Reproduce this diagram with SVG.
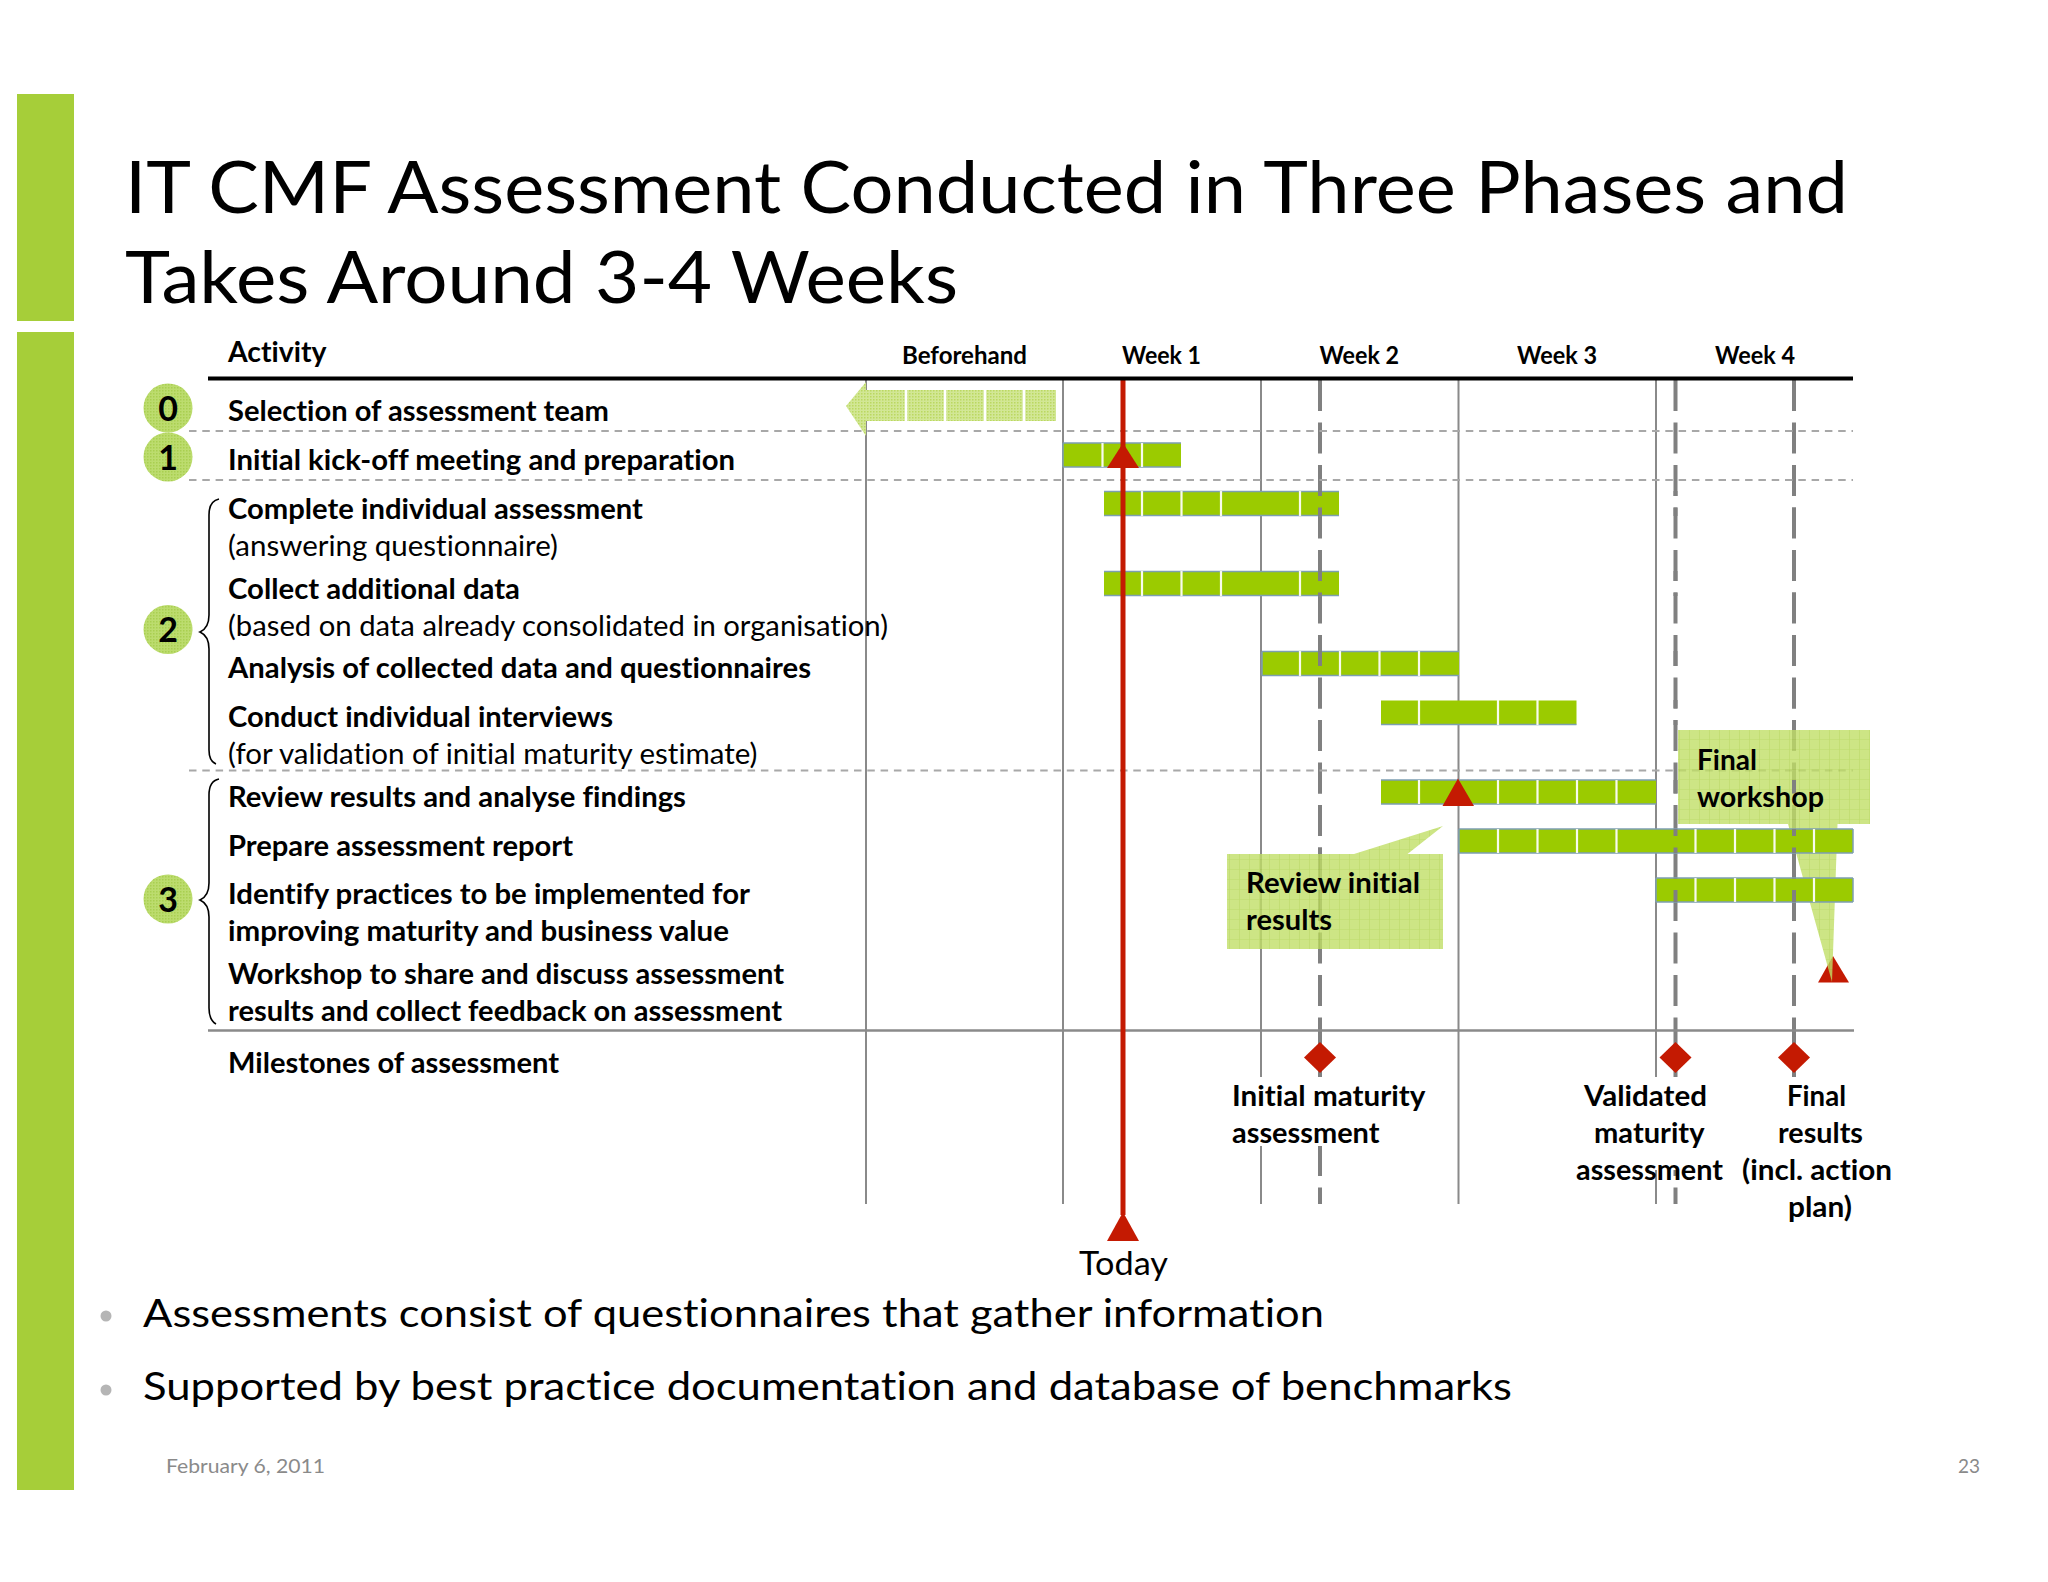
<svg xmlns="http://www.w3.org/2000/svg" width="2048" height="1582" viewBox="0 0 2048 1582">
<style>
text{font-family:"Lato","Carlito","Open Sans",sans-serif;fill:#000;font-variant-ligatures:none}
.t{font-size:72px}
.b{font-size:28px;font-weight:700}
.h{font-size:25px;font-weight:700}
.r{font-size:28px}
.p{font-size:39px}
.f{font-size:20px;fill:#8a8a8a}
.n{font-size:34px;font-weight:700;text-anchor:middle}
.grid{stroke:#8a8a8a;stroke-width:2;fill:none}
.dash{stroke:#808080;stroke-width:4;stroke-dasharray:31 11.5;fill:none}
.sep{stroke:#a8a8a8;stroke-width:2;stroke-dasharray:7.500 5.800;fill:none}
.bar{fill:#9bcb00}
.edge{stroke:#7d9fb2;stroke-width:1.5;fill:none}
.gap{stroke:#f8fbee;stroke-width:2.200}
.brace{fill:none;stroke:#000;stroke-width:1.6}
.red{fill:#c41a02}
.mask{fill:#fff}
</style>
<defs>
<pattern id="grid" width="10" height="10" patternUnits="userSpaceOnUse"><rect width="10" height="10" fill="#c0de66"/><path d="M10 0V10M0 10H10" stroke="#acd245" stroke-width="1.2" fill="none"/></pattern>
<pattern id="dots" width="3" height="3" patternUnits="userSpaceOnUse"><rect width="3" height="3" fill="#d2e795"/><rect width="1.5" height="1.5" fill="#bbd860"/></pattern>
<pattern id="cdots" width="3" height="3" patternUnits="userSpaceOnUse"><rect width="3" height="3" fill="#bcdc6e"/><rect width="1.5" height="1.5" fill="#a9cf50"/></pattern>
<clipPath id="bands"><rect x="1000" y="491" width="900" height="25"/><rect x="1000" y="571" width="900" height="25"/><rect x="1000" y="651" width="900" height="25"/><rect x="1000" y="700" width="900" height="25"/><rect x="1000" y="780" width="900" height="24"/><rect x="1000" y="829" width="900" height="24"/><rect x="1000" y="878" width="900" height="24"/></clipPath>
</defs>

<g id="side-bars" fill="#a6ce39"><rect x="17" y="94" width="57" height="227"/><rect x="17" y="332" width="57" height="1158"/></g>

<g id="title">
<text class="t" x="125" y="213" textLength="1723" lengthAdjust="spacingAndGlyphs">IT CMF Assessment Conducted in Three Phases and</text>
<text class="t" x="125" y="303" textLength="833" lengthAdjust="spacingAndGlyphs">Takes Around 3-4 Weeks</text>
</g>

<g id="connectors">
<path class="dash" d="M1320 380V1204M1675.500 380V1204M1794 380V1204"/>
<path class="grid" d="M866 379V1204M1063 379V1204M1261 379V1204M1458.500 379V1204M1656 379V1204"/>
<path class="sep" d="M189 431H1853M189 480H1853M189 770.500H1853"/>
<path d="M208 1030.500H1854" stroke="#8a8a8a" stroke-width="2.600"/>
</g>

<g id="selection-bar">
<polygon points="846,406 866,382 866,436" fill="url(#dots)"/>
<rect x="866" y="390" width="190" height="31" fill="url(#dots)"/>
<path d="M906 390V421M945 390V421M985 390V421M1024 390V421" stroke="#fff" stroke-width="2.500"/>
</g>

<polygon id="final-milestone" class="red" points="1833,956 1818,982.500 1849,982.500"/>
<g id="callout-final" opacity=".8">
<polygon points="1678,730 1870,730 1870,824 1837.500,824 1832,982 1788,824 1678,824" fill="url(#grid)"/>
</g>

<g id="bars">
<g id="bar-kickoff"><rect class="bar" x="1063" y="443" width="118" height="24"/><path class="edge" d="M1063 443H1181M1063 467H1181M1063 443V467"/><path class="gap" d="M1102.500 443V467M1142 443V467"/></g>
<g id="bar-complete"><rect class="bar" x="1104" y="491.500" width="235" height="24"/><path class="edge" d="M1104 491.500H1339M1104 515.500H1339"/><path class="gap" d="M1142 491V516M1181.500 491V516M1221 491V516M1300 491V516"/></g>
<g id="bar-collect"><rect class="bar" x="1104" y="571.500" width="235" height="24"/><path class="edge" d="M1104 571.500H1339M1104 595.500H1339"/><path class="gap" d="M1142 571V596M1181.500 571V596M1221 571V596M1300 571V596"/></g>
<g id="bar-analysis"><rect class="bar" x="1262" y="651.500" width="197" height="24"/><path class="edge" d="M1262 651.500H1459M1262 675.500H1459M1262 651.500V675.500"/><path class="gap" d="M1300 651V676M1340 651V676M1379.500 651V676M1419 651V676"/></g>
<g id="bar-interviews"><rect class="bar" x="1381" y="700.500" width="195.500" height="24"/><path class="edge" d="M1381 724.500H1576.500"/><path class="gap" d="M1419 700V725M1498 700V725M1537.500 700V725"/></g>
<g id="bar-review"><rect class="bar" x="1381" y="780" width="275" height="24"/><path class="edge" d="M1381 780H1656M1381 804H1656"/><path class="gap" d="M1419 780V804M1498 780V804M1537.500 780V804M1577 780V804M1616.500 780V804"/></g>
<g id="bar-prepare"><rect class="bar" x="1459" y="829" width="394" height="24"/><path class="edge" d="M1459 829H1853M1459 853H1853M1459 829V853M1853 829V853"/><path class="gap" d="M1498 829V853M1537.500 829V853M1577 829V853M1616.500 829V853M1695.500 829V853M1735 829V853M1774.500 829V853M1814 829V853"/></g>
<g id="bar-identify"><rect class="bar" x="1656" y="878" width="197" height="24"/><path class="edge" d="M1656 878H1853M1656 902H1853M1656 878V902M1853 878V902"/><path class="gap" d="M1695.500 878V902M1735 878V902M1774.500 878V902M1814 878V902"/></g>
</g>

<g id="dashed-over-bars" clip-path="url(#bands)"><path class="dash" d="M1320 380V1204M1675.500 380V1204M1794 380V1204"/></g>

<g id="label-backgrounds">
<rect class="mask" x="1232" y="1077" width="194" height="69"/>
<rect class="mask" x="1640" y="1077" width="60" height="93"/>
<rect class="mask" x="1780" y="1077" width="30" height="128"/>
</g>

<g id="today"><path d="M1123 379V1215" stroke="#c41a02" stroke-width="5" fill="none"/>
<polygon class="red" points="1123,443 1107,468 1139,468"/>
<polygon class="red" points="1123,1212 1107,1241 1139,1241"/>
<text x="1079" y="1275" font-size="32" textLength="89" lengthAdjust="spacingAndGlyphs">Today</text></g>
<polygon id="review-milestone" class="red" points="1458,778.500 1442.500,806 1474,806"/>

<g id="diamonds" class="red">
<polygon points="1320,1042 1336,1057.500 1320,1073 1304,1057.500"/>
<polygon points="1675.500,1042 1691.500,1057.500 1675.500,1073 1659.500,1057.500"/>
<polygon points="1794,1042 1810,1057.500 1794,1073 1778,1057.500"/>
</g>

<g id="callout-review" opacity=".8">
<polygon points="1227,854 1354,854 1443,826 1407.500,854 1443,854 1443,949 1227,949" fill="url(#grid)"/>
</g>

<path d="M208 378.500H1853" stroke="#000" stroke-width="4"/>

<g id="header">
<text class="b" x="228" y="362" textLength="98.500" lengthAdjust="spacingAndGlyphs">Activity</text>
<text class="h" x="902" y="364" textLength="125" lengthAdjust="spacingAndGlyphs">Beforehand</text>
<text class="h" x="1122" y="364" textLength="79" lengthAdjust="spacingAndGlyphs">Week 1</text>
<text class="h" x="1319.500" y="364" textLength="79.500" lengthAdjust="spacingAndGlyphs">Week 2</text>
<text class="h" x="1517" y="364" textLength="80" lengthAdjust="spacingAndGlyphs">Week 3</text>
<text class="h" x="1715" y="364" textLength="80" lengthAdjust="spacingAndGlyphs">Week 4</text>
</g>

<g id="activities">
<text class="b" x="228" y="421" textLength="381" lengthAdjust="spacingAndGlyphs">Selection of assessment team</text>
<text class="b" x="228" y="470" textLength="507" lengthAdjust="spacingAndGlyphs">Initial kick-off meeting and preparation</text>
<text class="b" x="228" y="519" textLength="415" lengthAdjust="spacingAndGlyphs">Complete individual assessment</text>
<text class="r" x="228" y="556" textLength="330" lengthAdjust="spacingAndGlyphs">(answering questionnaire)</text>
<text class="b" x="228" y="599" textLength="292" lengthAdjust="spacingAndGlyphs">Collect additional data</text>
<text class="r" x="228" y="636" textLength="660" lengthAdjust="spacingAndGlyphs">(based on data already consolidated in organisation)</text>
<text class="b" x="228" y="678" textLength="583" lengthAdjust="spacingAndGlyphs">Analysis of collected data and questionnaires</text>
<text class="b" x="228" y="727" textLength="385" lengthAdjust="spacingAndGlyphs">Conduct individual interviews</text>
<text class="r" x="228" y="764" textLength="529.500" lengthAdjust="spacingAndGlyphs">(for validation of initial maturity estimate)</text>
<text class="b" x="228" y="807" textLength="458" lengthAdjust="spacingAndGlyphs">Review results and analyse findings</text>
<text class="b" x="228" y="856" textLength="345" lengthAdjust="spacingAndGlyphs">Prepare assessment report</text>
<text class="b" x="228" y="904" textLength="522" lengthAdjust="spacingAndGlyphs">Identify practices to be implemented for</text>
<text class="b" x="228" y="941" textLength="501" lengthAdjust="spacingAndGlyphs">improving maturity and business value</text>
<text class="b" x="228" y="984" textLength="556" lengthAdjust="spacingAndGlyphs">Workshop to share and discuss assessment</text>
<text class="b" x="228" y="1021" textLength="554" lengthAdjust="spacingAndGlyphs">results and collect feedback on assessment</text>
<text class="b" x="228" y="1073" textLength="331" lengthAdjust="spacingAndGlyphs">Milestones of assessment</text>
</g>

<g id="callout-labels">
<text class="b" x="1246" y="893" textLength="174" lengthAdjust="spacingAndGlyphs">Review initial</text>
<text class="b" x="1246" y="930" textLength="86" lengthAdjust="spacingAndGlyphs">results</text>
<text class="b" x="1697" y="770" textLength="60" lengthAdjust="spacingAndGlyphs">Final</text>
<text class="b" x="1697" y="807" textLength="127" lengthAdjust="spacingAndGlyphs">workshop</text>
</g>

<g id="milestone-labels">
<text class="b" x="1232" y="1106" textLength="193.500" lengthAdjust="spacingAndGlyphs">Initial maturity</text>
<text class="b" x="1232" y="1143" textLength="147.500" lengthAdjust="spacingAndGlyphs">assessment</text>
<text class="b" x="1584" y="1106" textLength="123" lengthAdjust="spacingAndGlyphs">Validated</text>
<text class="b" x="1594" y="1143" textLength="110.500" lengthAdjust="spacingAndGlyphs">maturity</text>
<text class="b" x="1576" y="1180" textLength="147" lengthAdjust="spacingAndGlyphs">assessment</text>
<text class="b" x="1787" y="1106" textLength="59" lengthAdjust="spacingAndGlyphs">Final</text>
<text class="b" x="1778" y="1143" textLength="85" lengthAdjust="spacingAndGlyphs">results</text>
<text class="b" x="1742" y="1180" textLength="150" lengthAdjust="spacingAndGlyphs">(incl. action</text>
<text class="b" x="1788" y="1217" textLength="64" lengthAdjust="spacingAndGlyphs">plan)</text>
</g>

<g id="phase-0"><circle cx="168" cy="408" r="24.500" fill="url(#cdots)"/><text class="n" x="168" y="421">0</text></g>
<g id="phase-1"><circle cx="168" cy="457" r="24.500" fill="url(#cdots)"/><text class="n" x="168" y="470">1</text></g>
<g id="phase-2"><circle cx="168" cy="629.500" r="24.500" fill="url(#cdots)"/><text class="n" x="168" y="642">2</text></g>
<g id="phase-3"><circle cx="168" cy="899" r="24.500" fill="url(#cdots)"/><text class="n" x="168" y="912">3</text></g>

<g id="braces">
<path class="brace" d="M219 499Q209 501 209 515V615Q209 628 200 632Q209 636 209 649V750Q209 761 216 764"/>
<path class="brace" d="M219 779Q209 781 209 795V883Q209 896 200 900Q209 904 209 917V1008Q209 1020 216 1024"/>
</g>

<g id="bullets">
<circle cx="106" cy="1316" r="5.500" fill="#b5b5b5"/>
<text class="p" x="143" y="1327" textLength="1181" lengthAdjust="spacingAndGlyphs">Assessments consist of questionnaires that gather information</text>
<circle cx="106" cy="1390" r="5.500" fill="#b5b5b5"/>
<text class="p" x="143" y="1400" textLength="1369" lengthAdjust="spacingAndGlyphs">Supported by best practice documentation and database of benchmarks</text>
</g>

<g id="footer">
<text class="f" x="166" y="1473" textLength="159" lengthAdjust="spacingAndGlyphs">February 6, 2011</text>
<text class="f" x="1958" y="1473" textLength="22" lengthAdjust="spacingAndGlyphs">23</text>
</g>
</svg>
